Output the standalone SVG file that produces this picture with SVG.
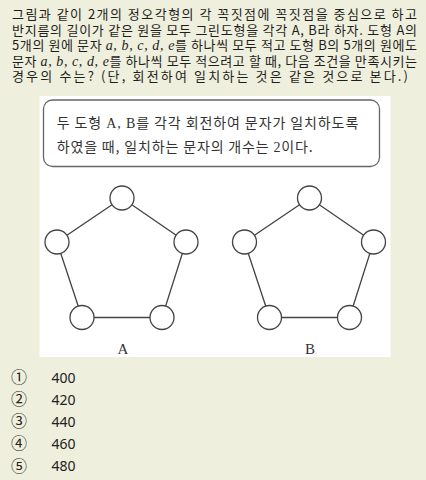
<svg xmlns="http://www.w3.org/2000/svg" width="426" height="480" viewBox="0 0 426 480">
<style>
.q{font-family:"Noto Sans CJK KR","Noto Sans",sans-serif;font-size:13px;fill:#1e1e1e}
.m{font-family:"Liberation Serif",serif;font-style:italic;font-size:14px}
.bx{font-family:"Noto Sans CJK KR",sans-serif;font-size:14px;fill:#333}
.sf{font-family:"Liberation Serif",serif}
.edge{stroke:#444;stroke-width:1.3;fill:none}
.node{fill:#fff;stroke:#444;stroke-width:1.3}
.lab{font-family:"Liberation Serif",serif;font-size:15px;fill:#333;text-anchor:middle}
.ch{font-family:"Noto Sans CJK KR",sans-serif;font-size:16px;fill:#222}
.num{font-family:"Noto Sans","Open Sans",sans-serif;font-size:14px;fill:#222}
</style>
<rect width="426" height="480" fill="#eeefdd"/>
<g id="question">
<text class="q"><tspan x="12" y="19" textLength="405" lengthAdjust="spacing">그림과 같이 2개의 정오각형의 각 꼭짓점에 꼭짓점을 중심으로 하고</tspan><tspan x="12" y="34.5" textLength="405" lengthAdjust="spacing">반지름의 길이가 같은 원을 모두 그린도형을 각각 A, B라 하자. 도형 A의</tspan><tspan x="12" y="50" textLength="405" lengthAdjust="spacing">5개의 원에 문자 <tspan class="m">a, b, c, d, e</tspan>를 하나씩 모두 적고 도형 B의 5개의 원에도</tspan><tspan x="12" y="65.5" textLength="405" lengthAdjust="spacing">문자 <tspan class="m">a, b, c, d, e</tspan>를 하나씩 모두 적으려고 할 때, 다음 조건을 만족시키는</tspan><tspan x="12" y="81" textLength="396" lengthAdjust="spacing">경우의 수는? (단, 회전하여 일치하는 것은 같은 것으로 본다.)</tspan></text>
</g>
<rect x="39.5" y="96" width="351" height="261" fill="#fff"/>
<g id="condition">
<rect x="43.5" y="100" width="336" height="66.5" rx="9" fill="#fff" stroke="#666" stroke-width="1.3"/>
<text class="bx" x="56.7" y="128" textLength="301.6" lengthAdjust="spacing">두 도형 <tspan class="sf">A, B</tspan>를 각각 회전하여 문자가 일치하도록</text>
<text class="bx" x="56.7" y="152" textLength="256" lengthAdjust="spacing">하였을 때, 일치하는 문자의 개수는 <tspan class="sf">2</tspan>이다.</text>
</g>
<g id="connectors">
<polygon class="edge" points="122,198 186,242 162,317.5 82,317.5 57,242"/>
<polygon class="edge" points="309.5,198 373.5,242 349.5,317.5 269.5,317.5 244.5,242"/>
</g>
<g id="figA">
<circle class="node" cx="122" cy="198" r="12"/>
<circle class="node" cx="186" cy="242" r="12"/>
<circle class="node" cx="162" cy="317.5" r="12"/>
<circle class="node" cx="82" cy="317.5" r="12"/>
<circle class="node" cx="57" cy="242" r="12"/>
<text class="lab" x="123" y="354">A</text>
</g>
<g id="figB">
<circle class="node" cx="309.5" cy="198" r="12"/>
<circle class="node" cx="373.5" cy="242" r="12"/>
<circle class="node" cx="349.5" cy="317.5" r="12"/>
<circle class="node" cx="269.5" cy="317.5" r="12"/>
<circle class="node" cx="244.5" cy="242" r="12"/>
<text class="lab" x="310" y="354">B</text>
</g>
<g id="choices">
<text class="ch" x="11" y="383">①</text><text class="num" x="51.5" y="382.5">400</text>
<text class="ch" x="11" y="405">②</text><text class="num" x="51.5" y="404.5">420</text>
<text class="ch" x="11" y="427">③</text><text class="num" x="51.5" y="426.5">440</text>
<text class="ch" x="11" y="449">④</text><text class="num" x="51.5" y="448.5">460</text>
<text class="ch" x="11" y="471.5">⑤</text><text class="num" x="51.5" y="471">480</text>
</g>
</svg>
